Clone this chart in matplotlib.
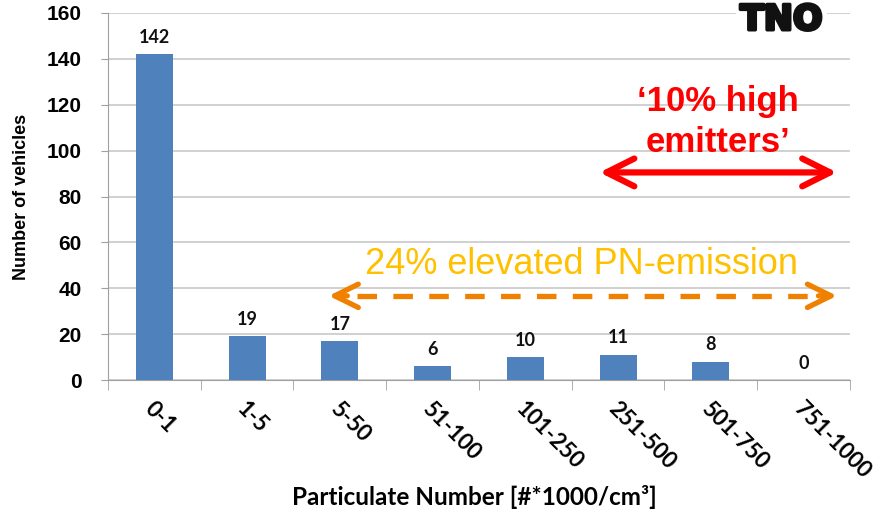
import matplotlib
matplotlib.use("Agg")
import matplotlib.pyplot as plt
import matplotlib.patheffects as pe
import numpy as np

categories = ["0-1", "1-5", "5-50", "51-100", "101-250", "251-500", "501-750", "751-1000"]
vehicles = [142, 19, 17, 6, 10, 11, 8, 0]
y_ticks = [0, 20, 40, 60, 80, 100, 120, 140, 160]

fig = plt.figure(figsize=(8.83, 5.2), dpi=100)
ax = fig.add_axes([0.1223, 0.2692, 0.8403, 0.7058])

x = np.arange(len(categories))
ax.bar(x, vehicles, width=0.4, color="#4F81BD", zorder=3)

for xi, v in zip(x, vehicles):
    ax.annotate(str(v), (xi, v), xytext=(0, 6), textcoords="offset points",
                ha="center", va="bottom", fontsize=13, fontweight="bold",
                family="Lato", color="#111111")

ax.set_xlim(-0.5, len(categories) - 0.5)
ax.set_ylim(0, 160)
ax.set_yticks(y_ticks)
ax.set_yticklabels([str(t) for t in y_ticks], fontsize=15, fontweight="bold",
                   family="Liberation Sans")
ax.yaxis.grid(True, color="#C4C4C4", linewidth=1.1, zorder=0)
ax.set_axisbelow(True)

ax.set_xticks(x)
ax.set_xticklabels([])
ax.tick_params(axis="x", which="major", length=0)
ax.set_xticks(np.arange(-0.5, len(categories)), minor=True)
ax.tick_params(axis="x", which="minor", length=7, color="#A0A0A0")
ax.tick_params(axis="y", length=5, color="#A0A0A0", pad=14)

for xi, lab in zip(x, categories):
    ax.text(xi - 0.07, -11, lab, rotation=-45, rotation_mode="anchor",
            ha="left", va="center", fontsize=16, fontweight="bold",
            family="Lato", color="#000000")

for s in ["top", "right"]:
    ax.spines[s].set_visible(False)
for s in ["left", "bottom"]:
    ax.spines[s].set_color("#A0A0A0")

ax.set_ylabel("Number of vehicles", fontsize=13, fontweight="bold",
              family="Liberation Sans", labelpad=12)
fig.text(0.537, 0.044, "Particulate Number [#*1000/cm³]", ha="center", va="center",
         fontsize=17.5, fontweight="bold", family="Lato", color="#000000")

# high emitter range
ax.annotate("", xy=(4.80, 90.5), xytext=(7.36, 90.5),
            arrowprops=dict(arrowstyle="<->,head_length=1.0,head_width=0.5",
                            mutation_scale=20, color="#FF0000", lw=4.5,
                            shrinkA=0, shrinkB=0), zorder=5)
ax.text(6.08, 112.5, "‘10% high\nemitters’", ha="center", va="center",
        fontsize=25, fontweight="bold", color="#FF0000",
        family="Liberation Sans", linespacing=1.3, zorder=5)

# elevated PN range: dashed shaft with solid open heads
pn_left, pn_right, pn_y = 1.88, 7.36, 36.7
ax.plot([pn_left + 0.3, pn_right - 0.3], [pn_y, pn_y], color="#F08000", lw=3.8,
        dashes=(3.7, 3.1), solid_capstyle="butt", dash_capstyle="butt", zorder=5)
for tip, base in [(pn_left, pn_left + 0.2), (pn_right, pn_right - 0.2)]:
    ax.annotate("", xy=(tip, pn_y), xytext=(base, pn_y),
                arrowprops=dict(arrowstyle="->,head_length=0.85,head_width=0.42",
                                mutation_scale=20, color="#F08000", lw=3.8,
                                shrinkA=0, shrinkB=0), zorder=5)
ax.text(4.61, 50.5, "24% elevated PN-emission", ha="center", va="center",
        fontsize=26, color="#FFC000", family="Liberation Sans", zorder=5)

# logo
fig.text(0.885, 0.962, "TNO", ha="center", va="center", fontsize=25,
         fontweight="black", family="DejaVu Sans", color="#111111",
         path_effects=[pe.withStroke(linewidth=2.5, foreground="#111111")],
         bbox=dict(facecolor="white", edgecolor="none", pad=3))

fig.savefig("out.png", dpi=100)
